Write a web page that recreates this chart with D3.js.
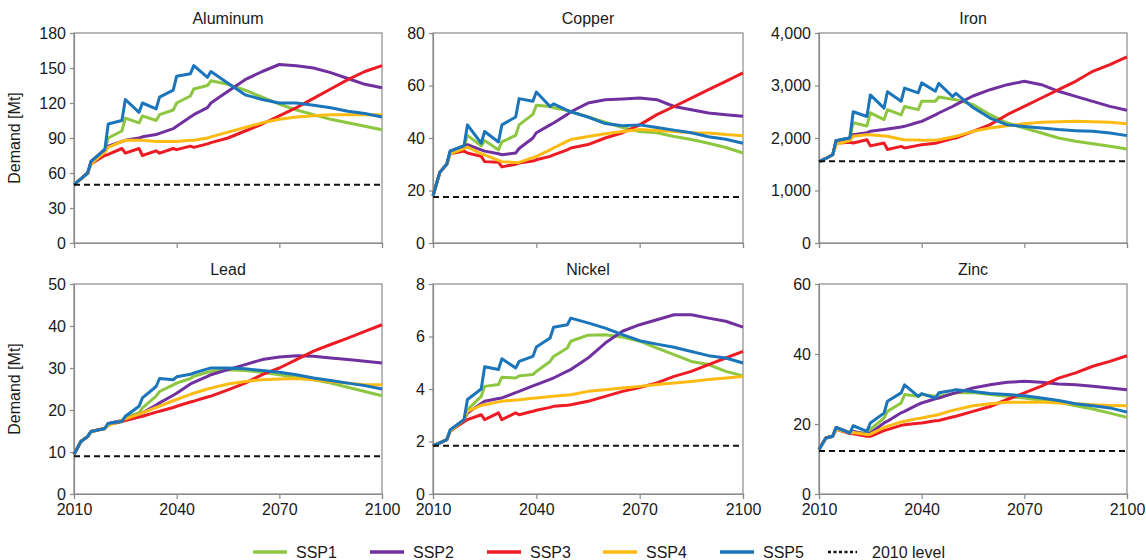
<!DOCTYPE html>
<html><head><meta charset="utf-8">
<script src="https://cdn.jsdelivr.net/npm/d3@7/dist/d3.min.js"></script>
<style>
body{margin:0;background:#fff}
text{font-family:"Liberation Sans",Arial,Helvetica,sans-serif;fill:#1a1a1a}
</style>
</head><body>
<svg id="chart" width="1146" height="560"></svg>
<script>
// ---------- DATA ----------
const years = [2010,2012,2014,2015,2019,2020,2024,2025,2029,2030,2034,2035,2039,2040,2044,2045,2049,2050,2055,2060,2065,2070,2075,2080,2085,2090,2095,2100];
const scenarios = ["SSP1","SSP2","SSP3","SSP4","SSP5"];
const xTicks = [2010,2040,2070,2100];
const metals = ["Aluminum","Copper","Iron","Lead","Nickel","Zinc"];
const levels2010 = [50, 17.5, 1556, 9, 1.84, 12.3];
const yMaxima = [180, 80, 4000, 50, 8, 60];
const yTickSteps = [30, 20, 1000, 10, 2, 20];

// series order: SSP1, SSP2, SSP3, SSP4, SSP5
const aluminum = [
  [50,55,60,70,80,90,96,107,103,109,105,110,114,120,126,132,135,139,136,131,125,119,114,110,106,103,100,97],
  [50,55,60,70,80,83,87,88,90,91,93,94,98,100,108,110,116,120,130,140,147,153,152,150,146,141,136,133],
  [50,55,60,68,75,76,81,77,81,75,79,77,81,80,83,82,85,86,90,96,102,109,116,124,132,140,147,152],
  [50,55,60,68,78,82,87,88,88,88,87,87,87,87,88,88,90,91,95,99,103,106,108,109,110,110,110,110],
  [50,55,60,70,80,102,105,123,112,120,115,125,131,143,145,152,142,147,137,127,123,120,120,118,116,113,111,108]
];
const copper = [
  [18,27,30,35,37,41,37,39,35.5,38.5,41,45,49,52.5,52,51.5,50.5,50,48,46,44,42.5,42,40.6,39.4,38,36.4,34.3],
  [18,27,30,35,37,37.5,35.5,35,34,33.6,34.3,36,40,42,45,45.7,49,50,53.3,54.6,54.9,55.2,54.6,52,50.8,49.5,48.9,48.3],
  [18,27,30,34,35,34.3,33,31,30.8,29,30,30.5,31.2,31.7,33,33.6,35.5,36.2,37.5,40,42,45,48.9,52,55.2,58.4,61.6,64.8],
  [18,27,30,34,36,36.5,34,33.6,31.5,31,30.7,30.7,32.5,33,35.5,36.2,38.8,39.4,40.6,41.6,42.5,43.2,42.9,42.5,42,41.9,41.3,40.9],
  [18,27,30,35,37,45,38,42.5,38.5,45,48,55,54,57.5,52,53,50.5,50,48,45.5,44.7,45,44,43,42,40.5,39.5,38]
];
const iron = [
  [1550,1610,1680,1950,2000,2290,2230,2480,2350,2540,2440,2600,2540,2700,2700,2780,2740,2730,2635,2444,2286,2190,2095,2000,1937,1892,1841,1790],
  [1550,1610,1680,1950,2000,2063,2100,2127,2160,2170,2210,2222,2300,2317,2440,2476,2600,2635,2800,2920,3016,3080,3016,2890,2794,2698,2603,2527],
  [1550,1610,1680,1900,1920,1905,1968,1850,1905,1780,1841,1810,1860,1873,1900,1917,1990,2000,2127,2254,2444,2603,2762,2920,3080,3270,3397,3543],
  [1550,1610,1680,1880,1950,2032,2060,2063,2040,2032,1975,1968,1960,1955,1960,1968,2020,2032,2127,2190,2235,2273,2298,2311,2317,2311,2298,2273],
  [1550,1610,1680,1950,2000,2500,2410,2820,2570,2880,2700,2950,2860,3050,2890,3040,2790,2850,2580,2380,2250,2220,2190,2160,2140,2127,2095,2045]
];
const lead = [
  [9.4,12.5,13.7,14.9,15.6,16.6,17.2,18.3,19.3,20.5,23.3,24.4,26,26.4,27.5,28,29,29.2,29.6,29.4,29,28.4,27.8,27.2,26.4,25.4,24.4,23.4],
  [9.4,12.5,13.7,14.9,15.6,16.8,17.5,17.9,19,19.3,21.2,21.7,23.5,24,26.2,26.6,28,28.4,29.6,30.8,32,32.6,32.9,32.8,32.4,32,31.6,31.2],
  [9.4,12.5,13.7,14.9,15.6,16.5,17.3,17.5,18.3,18.5,19.5,19.7,20.6,20.9,21.9,22.1,23.1,23.3,24.8,26.4,28.4,30,32,34,35.6,37.1,38.7,40.3],
  [9.4,12.5,13.7,14.9,15.6,16.3,17.6,17.9,19,19.3,20.6,20.9,22.2,22.5,23.7,24,25,25.2,26.2,26.8,27.2,27.4,27.5,27.2,26.8,26.4,26,26],
  [9.4,12.5,13.7,14.9,15.6,16.8,17.3,18.5,20.9,22.9,25.6,27.5,27.2,27.9,28.5,28.8,29.8,30,30,29.8,29.4,29,28.4,27.6,27,26.4,25.8,25]
];
const nickel = [
  [1.84,1.95,2.07,2.4,2.83,3.21,3.72,4.1,4.17,4.45,4.42,4.5,4.55,4.67,5.05,5.24,5.56,5.82,6.05,6.07,5.98,5.82,5.56,5.31,5.05,4.93,4.67,4.5],
  [1.84,1.95,2.07,2.4,2.83,3.09,3.45,3.53,3.64,3.66,3.86,3.91,4.12,4.17,4.37,4.42,4.68,4.74,5.18,5.75,6.2,6.45,6.64,6.83,6.83,6.7,6.58,6.36],
  [1.84,1.95,2.07,2.4,2.75,2.83,3.02,2.83,3.09,2.83,3.09,3.02,3.15,3.19,3.3,3.34,3.38,3.4,3.53,3.72,3.91,4.06,4.23,4.48,4.67,4.93,5.18,5.43],
  [1.84,1.95,2.07,2.4,2.83,3.15,3.38,3.4,3.51,3.53,3.58,3.59,3.65,3.66,3.71,3.72,3.77,3.78,3.91,3.97,4.04,4.1,4.17,4.23,4.29,4.36,4.42,4.48],
  [1.84,1.95,2.07,2.45,2.83,3.6,4.0,4.85,4.74,5.15,4.8,5.05,5.24,5.6,5.94,6.35,6.45,6.7,6.52,6.32,6.07,5.84,5.71,5.59,5.43,5.27,5.18,4.99]
];
const zinc = [
  [12.7,16,16.5,19,17.5,17.8,17.3,18.5,21.7,23.6,26,28.4,27.9,28.4,27.9,27.9,28.6,28.9,29,28.4,27.9,27.4,26.8,26.2,25.2,24.3,23.1,21.9],
  [12.7,16,16.5,19,17.5,17.9,17,17.4,20.3,20.8,23.2,23.6,25.6,26,27.2,27.4,28.7,28.9,30.3,31.2,31.9,32.2,31.9,31.4,31.2,30.8,30.3,29.8],
  [12.7,16,16.5,18.5,17.3,17.2,16.5,16.5,18.1,18.4,19.6,19.8,20.2,20.3,20.9,21,22,22.2,23.6,25,27,28.9,30.8,33.1,34.6,36.5,37.9,39.5],
  [12.7,16,16.5,18.5,17.5,17.6,17,17.1,19,19.3,20.6,20.8,21.6,21.7,22.5,22.7,23.9,24.1,25.2,25.8,26.2,26.2,26.3,26,25.8,25.5,25.3,25.2],
  [12.7,16,16.5,19,17.4,19.5,17.9,20.3,23.1,26.5,28.9,31.2,27.9,28.7,27.4,28.9,29.6,29.8,29.3,28.7,28.4,28.1,27.4,26.7,25.8,25.2,24.6,23.4]
];
const metalSeries = [aluminum, copper, iron, lead, nickel, zinc];

// ---------- STYLE / LAYOUT ----------
const colors = ["#8dc63f","#7030a0","#ed1c24","#fdbb14","#1b75bb"];
const colX = [74, 433, 819];
const colW = [308, 310, 308];
const rowY = [33, 284];
const plotH = 210;
const axisGrey = "#8a8a8a";
const fontSize = 16;

const svg = d3.select("#chart");
svg.append("rect").attr("width",1146).attr("height",560).attr("fill","#fff");

metals.forEach((name, k) => {
  const col = k % 3, row = Math.floor(k / 3);
  const w = colW[col];
  const g = svg.append("g").attr("transform", `translate(${colX[col]},${rowY[row]})`);
  const x = d3.scaleLinear().domain([2010, 2100]).range([0, w]);
  const y = d3.scaleLinear().domain([0, yMaxima[k]]).range([plotH, 0]);
  const fmt = yMaxima[k] >= 1000 ? d3.format(",") : d3.format("d");

  // frame
  g.append("rect").attr("x",0).attr("y",0).attr("width",w).attr("height",plotH)
    .attr("fill","none").attr("stroke",axisGrey).attr("stroke-width",1.2);

  // y axis
  const ya = g.append("g").call(d3.axisLeft(y)
      .tickValues(d3.range(0, yMaxima[k] + yTickSteps[k]/2, yTickSteps[k]))
      .tickSize(4).tickPadding(4).tickFormat(fmt));
  ya.select(".domain").attr("stroke",axisGrey).attr("stroke-width",1.2);
  ya.selectAll(".tick line").attr("stroke",axisGrey).attr("stroke-width",1.2);
  ya.selectAll(".tick text").attr("font-size",fontSize).attr("font-family",null).attr("fill","#1a1a1a");

  // x axis
  const xa = g.append("g").attr("transform",`translate(0,${plotH})`).call(d3.axisBottom(x)
      .tickValues(xTicks).tickSize(5).tickPadding(5)
      .tickFormat(row === 1 ? d3.format("d") : () => ""));
  xa.select(".domain").attr("stroke",axisGrey).attr("stroke-width",1.2);
  xa.selectAll(".tick line").attr("stroke",axisGrey).attr("stroke-width",1.2);
  xa.selectAll(".tick text").attr("font-size",fontSize).attr("font-family",null).attr("fill","#1a1a1a");

  // series
  const line = d3.line().x((d,i) => x(years[i])).y(d => y(d)).curve(d3.curveLinear);
  metalSeries[k].forEach((vals, s) => {
    g.append("path").datum(vals).attr("d", line)
      .attr("fill","none").attr("stroke",colors[s]).attr("stroke-width",3)
      .attr("stroke-linejoin","round").attr("stroke-linecap","butt");
  });

  // 2010 level
  g.append("line").attr("x1",x(2010)).attr("x2",x(2100))
    .attr("y1",y(levels2010[k])).attr("y2",y(levels2010[k]))
    .attr("stroke","#111").attr("stroke-width",2).attr("stroke-dasharray","6,4");

  // title
  g.append("text").attr("x",w/2).attr("y",-9).attr("text-anchor","middle")
    .attr("font-size",fontSize).text(name);

  // y label
  if (col === 0) {
    g.append("text").attr("transform",`translate(${-54},${plotH/2}) rotate(-90)`)
      .attr("text-anchor","middle").attr("font-size",fontSize).text("Demand [Mt]");
  }
});

// ---------- LEGEND ----------
const legendItems = scenarios.map((s,i) => ({label:s, color:colors[i], dash:null}))
  .concat([{label:"2010 level", color:"#111", dash:"3,2.5"}]);
const legendX = [253, 370, 487, 603, 720, 828];
const legendY = 552;
legendItems.forEach((it, i) => {
  const lg = svg.append("g").attr("transform",`translate(${legendX[i]},${legendY})`);
  lg.append("line").attr("x1",0).attr("x2",it.dash ? 29 : 34).attr("y1",0).attr("y2",0)
    .attr("stroke",it.color).attr("stroke-width",it.dash ? 2.5 : 3.5)
    .attr("stroke-dasharray",it.dash);
  lg.append("text").attr("x",it.dash ? 44 : 43).attr("y",6).attr("font-size",fontSize).text(it.label);
});
</script>
</body></html>
